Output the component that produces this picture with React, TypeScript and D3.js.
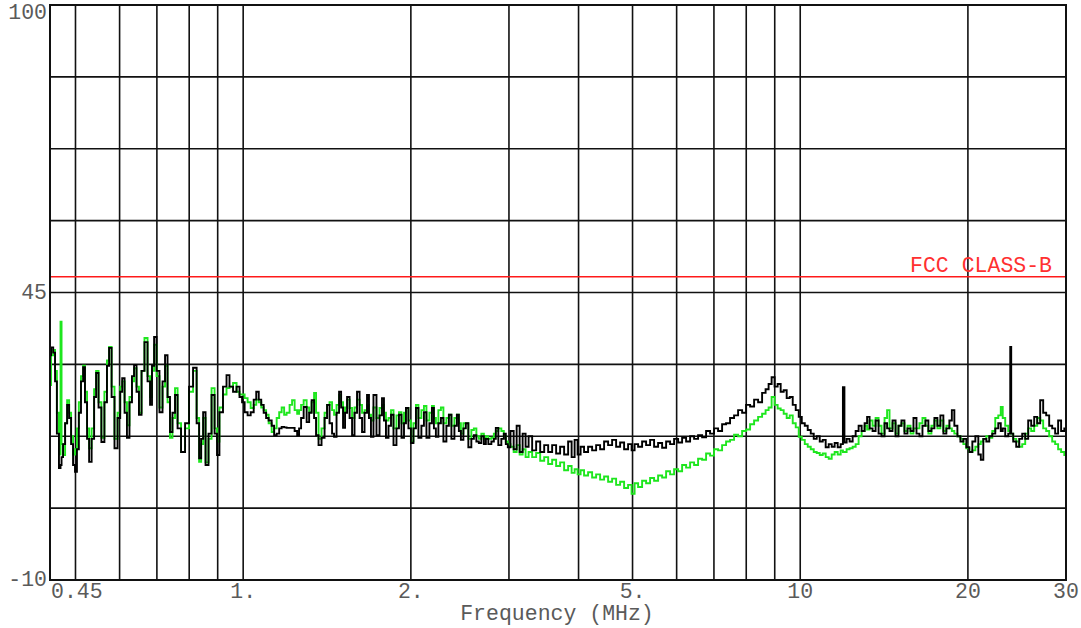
import React from 'react';
import * as d3 from 'd3';

// Frequency grid (MHz), shared by both traces
const freqMHz = [
  0.450, 0.454, 0.458, 0.461, 0.465, 0.469, 0.471, 0.473, 0.477, 0.481, 0.485, 0.489, 0.493, 0.497, 0.501, 0.505,
  0.509, 0.514, 0.518, 0.522, 0.527, 0.531, 0.538, 0.542, 0.547, 0.553, 0.560, 0.567, 0.572, 0.577, 0.584, 0.591,
  0.599, 0.604, 0.609, 0.616, 0.621, 0.629, 0.634, 0.640, 0.647, 0.653, 0.661, 0.669, 0.678, 0.683, 0.689, 0.695,
  0.703, 0.712, 0.721, 0.727, 0.736, 0.742, 0.751, 0.758, 0.767, 0.780, 0.793, 0.806, 0.820, 0.830, 0.837, 0.844,
  0.851, 0.861, 0.872, 0.883, 0.894, 0.901, 0.912, 0.928, 0.939, 0.951, 0.967, 0.979, 0.991,
  1.000, 1.012, 1.025, 1.038, 1.051, 1.060, 1.073, 1.082, 1.095, 1.104, 1.118, 1.132, 1.141, 1.156, 1.165, 1.180,
  1.189, 1.204, 1.219, 1.229, 1.245, 1.255, 1.265, 1.276, 1.292, 1.308, 1.319, 1.335, 1.346, 1.357, 1.374, 1.391,
  1.409, 1.420, 1.438, 1.450, 1.462, 1.480, 1.493, 1.505, 1.517, 1.530, 1.543, 1.562, 1.575, 1.594, 1.608, 1.628,
  1.641, 1.662, 1.675, 1.689, 1.703, 1.724, 1.746, 1.768, 1.782, 1.797, 1.812, 1.835, 1.850, 1.873, 1.896, 1.912,
  1.936, 1.952, 1.968, 1.992, 2.009, 2.034, 2.051, 2.076, 2.102, 2.120, 2.146, 2.173, 2.191, 2.209, 2.227, 2.255,
  2.274, 2.302, 2.331, 2.350, 2.380, 2.409, 2.429, 2.449, 2.470, 2.500, 2.521, 2.552, 2.584, 2.606, 2.638, 2.660,
  2.693, 2.716, 2.738, 2.772, 2.807, 2.830, 2.853, 2.889, 2.925, 2.949, 2.974, 2.998,
  3.040, 3.078, 3.116, 3.155, 3.194, 3.233, 3.275, 3.329, 3.385, 3.442, 3.499, 3.557, 3.616, 3.676, 3.737, 3.800,
  3.863, 3.911, 3.960, 4.009, 4.059, 4.126, 4.196, 4.266, 4.337, 4.409, 4.482, 4.558, 4.633, 4.711, 4.789, 4.869,
  4.950, 5.012, 5.074, 5.159, 5.245, 5.332, 5.421, 5.511, 5.604, 5.697, 5.792, 5.888, 5.986, 6.087, 6.188, 6.291,
  6.396, 6.502, 6.611, 6.721, 6.833, 6.946, 7.062, 7.181, 7.300, 7.421, 7.545, 7.671, 7.800, 7.930, 8.062, 8.196,
  8.333, 8.472, 8.613, 8.720, 8.830, 8.940, 9.052, 9.166, 9.281, 9.397, 9.515, 9.635, 9.755, 9.878, 10.00,
  10.13, 10.25, 10.38, 10.51, 10.64, 10.77, 10.91, 11.04, 11.18, 11.32, 11.46, 11.60, 11.75, 11.89, 11.97, 12.04,
  12.19, 12.34, 12.50, 12.65, 12.81, 12.97, 13.13, 13.24, 13.40, 13.57, 13.74, 13.91, 14.08, 14.26, 14.38, 14.55,
  14.74, 14.92, 15.10, 15.29, 15.48, 15.68, 15.87, 16.07, 16.27, 16.47, 16.68, 16.88, 17.09, 17.31, 17.52, 17.74,
  17.96, 18.18, 18.41, 18.64, 18.79, 19.03, 19.27, 19.51, 19.75, 19.99, 20.24, 20.50, 20.75, 21.01, 21.18, 21.45,
  21.71, 21.98, 22.26, 22.53, 22.82, 23.00, 23.19, 23.48, 23.78, 23.87, 23.97, 24.27, 24.57, 24.88, 25.19, 25.50,
  25.82, 26.14, 26.47, 26.80, 27.13, 27.47, 27.81, 28.16, 28.51, 28.86, 29.22, 29.58, 30.00,
];

// Black trace (dBuV)
const blackLevels = [
  33.0, 34.5, 33.5, 28.0, 18.0, 11.4, 12.0, 13.5, 16.0, 20.0, 23.5, 21.0, 16.0, 12.0, 10.7, 15.0,
  22.0, 28.0, 30.7, 24.0, 17.0, 12.6, 17.0, 25.0, 29.6, 23.0, 16.4, 24.0, 31.0, 34.4, 25.0, 15.2,
  21.0, 26.0, 28.6, 22.0, 17.2, 24.0, 29.0, 31.1, 26.0, 21.6, 30.0, 35.5, 28.0, 23.5, 31.0, 36.5,
  30.0, 22.1, 28.0, 33.0, 25.0, 18.3, 22.0, 25.4, 19.0, 14.5, 20.0, 27.0, 30.6, 20.0, 13.3, 17.0,
  22.1, 12.0, 18.0, 25.4, 18.0, 13.9, 22.1, 27.0, 29.2, 27.0, 26.0, 27.0, 25.0,
  24.0, 22.1, 21.5, 22.1, 24.5, 26.0, 24.5, 23.5, 22.0, 21.0, 20.5, 19.5, 17.7, 18.0, 19.0, 19.3,
  19.2, 19.1, 19.1, 19.1, 18.5, 17.7, 19.0, 21.0, 23.1, 20.2, 22.0, 24.4, 21.0, 17.7, 15.8, 17.2,
  21.0, 23.5, 20.0, 18.0, 17.4, 22.0, 26.0, 23.0, 19.1, 22.0, 25.0, 21.0, 17.7, 22.0, 26.0, 21.0,
  18.3, 22.0, 25.4, 21.0, 17.4, 25.4, 17.7, 21.5, 24.8, 20.5, 17.2, 19.5, 21.6, 15.8, 19.0, 21.6,
  17.2, 20.0, 22.9, 19.0, 16.2, 19.0, 22.9, 17.2, 19.5, 22.1, 17.2, 20.0, 22.9, 19.0, 17.4, 20.0,
  21.0, 16.5, 19.5, 21.6, 17.0, 19.5, 21.6, 18.5, 16.8, 19.0, 20.0, 15.4, 17.0, 17.7, 16.5, 16.2,
  17.5, 16.0, 17.0, 16.0, 16.5, 17.0, 19.1, 15.8, 17.0, 18.0, 16.0, 15.4,
  18.5, 15.0, 19.5, 14.5, 18.0, 15.5, 17.5, 14.8, 16.5, 14.5, 15.8, 14.5, 15.8, 14.2, 15.5, 14.0,
  16.5, 13.5, 16.8, 14.0, 15.5, 14.5, 15.5, 14.8, 15.8, 15.0, 16.5, 15.8, 16.8, 15.5, 16.3, 15.0,
  16.0, 14.8, 16.0, 15.5, 16.5, 15.8, 16.8, 15.5, 16.2, 15.3, 16.5, 16.0, 17.0, 16.3, 17.2, 16.5,
  17.5, 17.0, 17.7, 17.3, 18.5, 18.0, 19.0, 18.5, 19.8, 20.0, 21.0, 21.5, 22.5, 22.0, 23.5, 23.2,
  24.5, 24.0, 25.8, 26.5, 27.5, 28.8, 27.0, 27.5, 26.0, 26.3, 24.8, 25.0, 23.5, 22.5, 21.2,
  20.0, 19.5, 18.7, 18.0, 17.0, 17.5, 16.5, 16.8, 15.4, 16.0, 15.5, 16.2, 15.4, 16.0, 26.9, 16.3,
  17.0, 16.5, 17.5, 18.5, 19.5, 18.5, 20.0, 21.2, 19.0, 18.5, 20.5, 18.0, 17.5, 20.0, 19.0, 18.5,
  20.5, 17.5, 19.5, 20.5, 18.0, 19.0, 18.5, 21.0, 18.0, 17.5, 19.5, 20.5, 18.5, 19.0, 21.0, 19.5,
  21.5, 18.0, 19.0, 20.5, 22.5, 19.5, 17.5, 16.5, 17.0, 15.4, 14.5, 16.5, 17.5, 14.0, 13.0, 17.0,
  16.5, 17.5, 18.0, 19.0, 20.0, 18.5, 19.0, 17.5, 18.0, 34.6, 18.0, 16.5, 15.5, 17.0, 18.0, 17.0,
  20.5, 19.5, 21.2, 20.0, 24.4, 22.0, 21.5, 19.5, 19.0, 18.0, 20.5, 18.5, 19.0,
];

// Green trace (dBuV)
const greenLevels = [
  27.3, 33.0, 34.0, 30.0, 22.0, 14.0, 39.4, 16.0, 13.9, 20.0, 24.4, 22.0, 17.5, 14.0, 15.0, 19.0,
  24.0, 29.0, 31.0, 26.0, 19.0, 15.2, 19.0, 26.5, 30.0, 24.0, 17.2, 26.0, 32.0, 34.6, 27.0, 17.0,
  22.0, 27.0, 28.0, 24.0, 19.6, 25.0, 28.0, 30.5, 27.0, 22.0, 30.0, 36.3, 29.0, 25.0, 30.0, 35.0,
  29.0, 23.0, 27.0, 31.0, 24.0, 17.2, 21.0, 26.7, 20.0, 14.5, 19.0, 26.0, 30.0, 21.0, 12.6, 16.0,
  21.0, 12.5, 17.0, 26.7, 19.0, 16.5, 23.0, 25.5, 26.7, 27.0, 27.7, 26.0, 25.5,
  25.5, 24.8, 24.0, 22.9, 23.5, 24.5, 24.0, 23.0, 22.5, 21.6, 20.0, 18.3, 19.0, 21.0, 22.1, 23.0,
  21.6, 22.0, 23.5, 24.4, 22.5, 21.8, 22.5, 23.5, 24.4, 23.0, 22.1, 24.0, 25.8, 22.0, 17.0, 19.0,
  22.0, 23.5, 24.0, 22.5, 21.6, 23.5, 25.4, 24.0, 22.0, 23.0, 24.5, 22.9, 21.0, 23.0, 24.5, 23.5,
  22.0, 22.5, 23.5, 21.6, 20.5, 23.0, 21.0, 22.9, 23.5, 22.0, 20.5, 21.0, 22.5, 19.0, 21.5, 22.1,
  20.0, 22.0, 22.9, 20.5, 16.5, 20.0, 23.5, 21.0, 22.5, 23.3, 20.5, 22.0, 23.3, 21.0, 20.0, 22.5,
  23.0, 20.0, 21.0, 21.6, 19.5, 21.0, 21.6, 20.0, 18.0, 20.0, 20.0, 17.0, 18.7, 19.0, 17.5, 17.0,
  18.0, 17.0, 17.5, 17.0, 17.2, 18.0, 18.5, 19.0, 18.5, 17.5, 16.5, 16.0,
  15.5, 14.5, 15.8, 14.0, 15.0, 13.5, 14.5, 13.5, 14.3, 12.8, 13.5, 12.2, 13.0, 11.8, 12.5, 11.0,
  11.8, 10.5, 11.2, 10.2, 11.0, 10.0, 10.6, 9.6, 10.2, 9.2, 9.8, 8.8, 9.4, 8.2, 8.8, 7.6,
  8.2, 6.5, 8.5, 7.8, 9.0, 8.5, 9.5, 9.0, 10.0, 9.6, 10.8, 10.2, 11.2, 10.8, 12.0, 11.5,
  12.5, 12.0, 13.2, 13.0, 14.2, 13.8, 15.0, 14.8, 15.8, 16.5, 16.8, 17.8, 17.5, 18.5, 18.8, 19.8,
  20.5, 21.2, 21.8, 22.5, 23.0, 25.0, 23.5, 22.8, 22.5, 21.8, 21.0, 21.5, 20.0, 19.2, 17.4,
  16.8, 16.0, 15.5, 15.0, 14.5, 14.3, 13.9, 14.2, 13.5, 13.2, 14.0, 14.5, 14.0, 14.8, 14.5, 14.5,
  15.0, 15.2, 15.5, 16.0, 17.5, 18.5, 19.5, 18.8, 20.5, 19.5, 21.0, 19.5, 18.0, 21.0, 22.5, 19.0,
  20.0, 18.0, 19.5, 20.0, 18.5, 19.5, 18.0, 19.0, 19.0, 20.0, 21.0, 19.5, 18.0, 19.5, 20.5, 19.0,
  20.5, 18.5, 19.5, 19.0, 18.5, 18.0, 17.5, 17.0, 16.0, 15.2, 14.5, 14.8, 15.5, 16.0, 16.5, 17.0,
  17.5, 17.2, 18.5, 21.0, 21.5, 23.1, 21.0, 19.5, 18.5, 18.0, 18.0, 17.0, 16.5, 15.5, 16.0, 18.0,
  19.0, 18.5, 19.5, 21.0, 20.5, 19.0, 18.5, 17.5, 16.5, 16.0, 15.0, 14.5, 13.9,
];

const yLabelValues = [100, 45, -10];
const yGridValues = [86.25, 72.5, 58.75, 45, 31.25, 17.5, 3.75];
const xGridValues = [0.5, 0.6, 0.7, 0.8, 0.9, 1, 2, 3, 4, 5, 6, 7, 8, 9, 10, 20];
const xLabelValues = [0.45, 1, 2, 5, 10, 20, 30];
const xLabelTexts = ['0.45', '1.', '2.', '5.', '10', '20', '30'];
const limitLevel = 48;
const limitLabel = 'FCC CLASS-B';
const xAxisTitle = 'Frequency (MHz)';

export default function App() {
  const W = 1081;
  const H = 628;
  const left = 50, right = 1066, top = 5, bottom = 580;
  const x = d3.scaleLog().domain([0.45, 30]).range([left, right]);
  const y = d3.scaleLinear().domain([-10, 100]).range([bottom, top]);
  const mk = (levels: number[]) =>
    d3.line<number>()
      .x((_, i) => x(freqMHz[i]))
      .y((d) => y(d))
      .curve(d3.curveStep)(levels) || '';

  const font = '"Liberation Mono", "Courier New", monospace';
  const fs = 21.5;
  const textColor = '#5a5a5a';

  return (
    <svg width={W} height={H} style={{ position: 'absolute', left: 0, top: 0, background: '#fff' }}>
      <rect x={0} y={0} width={W} height={H} fill="#fff" />
      {yGridValues.map((v) => (
        <line key={'hy' + v} x1={left} x2={right} y1={y(v)} y2={y(v)} stroke="#111" strokeWidth={1.6} />
      ))}
      {xGridValues.map((f) => (
        <line key={'vx' + f} x1={x(f)} x2={x(f)} y1={top} y2={bottom} stroke="#111" strokeWidth={1.6} />
      ))}
      <line x1={left} x2={right} y1={y(limitLevel)} y2={y(limitLevel)} stroke="#ff1a1a" strokeWidth={1.6} />
      <text x={1052} y={y(limitLevel) - 5} textAnchor="end" fill="#ff3030" fontFamily={font} fontSize={fs}>
        {limitLabel}
      </text>
      <path d={mk(greenLevels)} fill="none" stroke="#1ee61e" strokeWidth={1.9} />
      <path d={mk(blackLevels)} fill="none" stroke="#000" strokeWidth={1.9} />
      <rect x={left} y={top} width={right - left} height={bottom - top} fill="none" stroke="#111" strokeWidth={2} />
      {yLabelValues.map((v, i) => (
        <text key={'yl' + v} x={47} y={i === 0 ? 19 : y(v) + 6} textAnchor="end" fill={textColor} fontFamily={font} fontSize={fs}>
          {String(v)}
        </text>
      ))}
      {xLabelValues.map((f, i) => (
        <text
          key={'xl' + f}
          x={i === 0 ? x(f) + 1 : x(f)}
          y={598}
          textAnchor={i === 0 ? 'start' : 'middle'}
          fill={textColor}
          fontFamily={font}
          fontSize={fs}
        >
          {xLabelTexts[i]}
        </text>
      ))}
      <text x={557} y={620} textAnchor="middle" fill={textColor} fontFamily={font} fontSize={fs}>
        {xAxisTitle}
      </text>
    </svg>
  );
}
